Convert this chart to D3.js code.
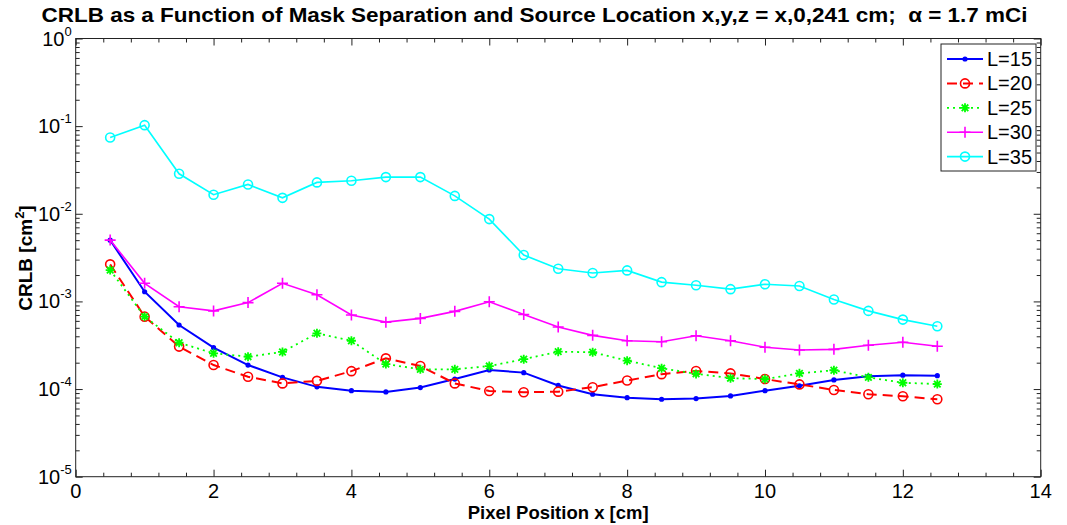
<!DOCTYPE html>
<html>
<head>
  <meta charset="utf-8">
  <script src="https://d3js.org/d3.v7.min.js"></script>
  <style>
    body { margin: 0; background: #fff; }
    svg { display: block; font-family: "Liberation Sans", Arial, sans-serif; }
  </style>
</head>
<body>
<div id="chart"></div>
<script>

    // pixel position x [cm]
    const xPos = [0.5, 1, 1.5, 2, 2.5, 3, 3.5, 4, 4.5, 5, 5.5, 6, 6.5, 7, 7.5, 8, 8.5, 9, 9.5, 10, 10.5, 11, 11.5, 12, 12.5]

    // CRLB [cm^2] per mask separation
    const crlbL15 = [0.0050, 0.00129, 0.000538, 0.000297, 0.000188, 0.000136, 0.000106, 0.0000959, 0.0000927, 0.000104,
                     0.000130, 0.000165, 0.000154, 0.000110, 0.0000873, 0.0000798, 0.0000765, 0.0000778, 0.0000834, 0.0000959,
                     0.000109, 0.000127, 0.000140, 0.000144, 0.000142]
    const crlbL20 = [0.00265, 0.00067, 0.000305, 0.000188, 0.000138, 0.000116, 0.000124, 0.000160, 0.000224, 0.000183,
                     0.000116, 0.0000951, 0.0000920, 0.0000934, 0.000105, 0.000125, 0.000148, 0.000161, 0.000151, 0.000130,
                     0.000113, 0.0000977, 0.0000873, 0.0000828, 0.0000765]
    const crlbL25 = [0.00228, 0.00067, 0.000338, 0.000256, 0.000234, 0.000265, 0.000433, 0.000356, 0.000193, 0.000168,
                     0.000168, 0.000183, 0.000219, 0.000267, 0.000263, 0.000211, 0.000173, 0.000149, 0.000133, 0.000130,
                     0.000151, 0.000164, 0.000136, 0.000118, 0.000114]
    const crlbL30 = [0.00501, 0.00161, 0.00087, 0.00078, 0.00097, 0.00161, 0.00119, 0.00070, 0.00058, 0.00064,
                     0.00077, 0.00099, 0.00071, 0.00051, 0.00041, 0.000356, 0.000347, 0.000406, 0.000356, 0.000300,
                     0.000279, 0.000284, 0.000316, 0.000342, 0.000308]
    const crlbL35 = [0.0743, 0.1026, 0.0286, 0.0165, 0.0216, 0.0152, 0.0228, 0.0238, 0.0262, 0.0262,
                     0.0160, 0.0087, 0.00338, 0.00236, 0.00211, 0.00226, 0.00166, 0.00153, 0.00138, 0.00157,
                     0.00150, 0.00105, 0.00078, 0.00062, 0.00052]

    const seriesNames = ['L=15', 'L=20', 'L=25', 'L=30', 'L=35']

    const xTicks = [0, 2, 4, 6, 8, 10, 12, 14]
    const yExponents = [0, -1, -2, -3, -4, -5]

    const titleText = 'CRLB as a Function of Mask Separation and Source Location x,y,z = x,0,241 cm;\u00a0\u00a0\u03b1 = 1.7 mCi'

    const width = 1067,
        height = 525
    const margin = { top: 38.5, right: 26.3, bottom: 48.3, left: 75.7 },
        innerWidth = width - margin.left - margin.right,
        innerHeight = height - margin.top - margin.bottom

    const series = [
        { name: seriesNames[0], values: crlbL15, color: '#0000ff', dash: null,    width: 2,   marker: 'dot' },
        { name: seriesNames[1], values: crlbL20, color: '#ff0000', dash: '10,6',  width: 2,   marker: 'circle' },
        { name: seriesNames[2], values: crlbL25, color: '#00ff00', dash: '2,4',   width: 1.8, marker: 'star' },
        { name: seriesNames[3], values: crlbL30, color: '#ff00ff', dash: null,    width: 1.6, marker: 'plus' },
        { name: seriesNames[4], values: crlbL35, color: '#00ffff', dash: null,    width: 1.6, marker: 'circle' },
    ]

    var xScale = d3.scaleLinear().domain([0, 14]).range([0, innerWidth])
    var yScale = d3.scaleLog().domain([1e-5, 1]).range([innerHeight, 0])

    var svg = d3.select('#chart').append('svg')
        .attr('width', width)
        .attr('height', height)

    var g = svg.append('g')
        .attr('transform', `translate(${margin.left},${margin.top})`)

    // minor tick values
    var xMinor = d3.range(0, 14.001, 0.4).filter(v => Math.abs(v / 2 - Math.round(v / 2)) > 1e-6)
    var yMinor = []
    yExponents.slice(1).forEach(e => { for (let k = 2; k <= 9; k++) yMinor.push(k * Math.pow(10, e)) })
    var yMajor = yExponents.map(e => Math.pow(10, e))

    function tickAxis(axisFn, scale, values, size, tx, ty) {
        var a = g.append('g')
            .attr('class', 'ticks')
            .attr('transform', `translate(${tx},${ty})`)
            .call(axisFn(scale).tickValues(values).tickSize(size).tickSizeOuter(0).tickFormat(''))
        a.select('.domain').remove()
        a.selectAll('text').remove()
        a.selectAll('line').attr('stroke', '#222').attr('stroke-width', 1)
        return a
    }

    // inward ticks on all four sides (box on)
    tickAxis(d3.axisBottom, xScale, xTicks, -7, 0, innerHeight)
    tickAxis(d3.axisBottom, xScale, xMinor, -4, 0, innerHeight)
    tickAxis(d3.axisTop, xScale, xTicks, -7, 0, 0)
    tickAxis(d3.axisTop, xScale, xMinor, -4, 0, 0)
    tickAxis(d3.axisLeft, yScale, yMajor, -7, 0, 0)
    tickAxis(d3.axisLeft, yScale, yMinor, -4, 0, 0)
    tickAxis(d3.axisRight, yScale, yMajor, -7, innerWidth, 0)
    tickAxis(d3.axisRight, yScale, yMinor, -4, innerWidth, 0)

    g.append('rect')
        .attr('width', innerWidth)
        .attr('height', innerHeight)
        .attr('fill', 'none')
        .attr('stroke', '#222')
        .attr('stroke-width', 1)

    // x tick labels
    g.append('g').selectAll('text')
        .data(xTicks).enter()
        .append('text')
        .attr('x', d => xScale(d))
        .attr('y', innerHeight + 21)
        .attr('text-anchor', 'middle')
        .attr('font-size', 20)
        .text(d => d)

    // y tick labels 10^n
    var yl = g.append('g').selectAll('text')
        .data(yExponents).enter()
        .append('text')
        .attr('x', -4)
        .attr('y', d => yScale(Math.pow(10, d)) + 7)
        .attr('text-anchor', 'end')
        .attr('font-size', 20)
    yl.append('tspan').text('10')
    yl.append('tspan')
        .attr('dy', -10)
        .attr('font-size', 13)
        .text(d => d === 0 ? '0' : '-' + Math.abs(d))

    // axis titles
    svg.append('text')
        .attr('x', width / 2 + 1)
        .attr('y', 22)
        .attr('text-anchor', 'middle')
        .attr('font-size', 21)
        .attr('font-weight', 'bold')
        .attr('textLength', 986)
        .attr('lengthAdjust', 'spacingAndGlyphs')
        .text(titleText)

    svg.append('text')
        .attr('x', margin.left + innerWidth / 2)
        .attr('y', 519)
        .attr('text-anchor', 'middle')
        .attr('font-size', 19)
        .attr('font-weight', 'bold')
        .attr('textLength', 181)
        .attr('lengthAdjust', 'spacingAndGlyphs')
        .text('Pixel Position x [cm]')

    var ylab = svg.append('text')
        .attr('transform', 'translate(32,258) rotate(-90)')
        .attr('text-anchor', 'middle')
        .attr('font-size', 19)
        .attr('font-weight', 'bold')
    ylab.append('tspan').text('CRLB [cm')
    ylab.append('tspan').attr('dy', -8).attr('font-size', 13).text('2')
    ylab.append('tspan').attr('dy', 8).text(']')

    function drawMarker(sel, type, color) {
        if (type === 'dot') {
            sel.append('circle').attr('r', 2.6).attr('fill', color)
        } else if (type === 'circle') {
            sel.append('circle').attr('r', 4.5).attr('fill', 'none')
                .attr('stroke', color).attr('stroke-width', 1.6)
        } else if (type === 'plus') {
            sel.append('path').attr('d', 'M-5.5,0H5.5M0,-5.5V5.5')
                .attr('stroke', color).attr('stroke-width', 1.6)
        } else if (type === 'star') {
            sel.append('path').attr('d', 'M-4.5,0H4.5M0,-4.5V4.5M-3.3,-3.3L3.3,3.3M-3.3,3.3L3.3,-3.3')
                .attr('stroke', color).attr('stroke-width', 1.8)
        }
    }

    var line = d3.line()
        .x(d => xScale(d[0]))
        .y(d => yScale(d[1]))

    series.forEach(s => {
        var pts = xPos.map((x, i) => [x, s.values[i]])
        var sg = g.append('g')
        sg.append('path')
            .datum(pts)
            .attr('d', line)
            .attr('fill', 'none')
            .attr('stroke', s.color)
            .attr('stroke-width', s.width)
            .attr('stroke-dasharray', s.dash)
        sg.selectAll('g.mk')
            .data(pts).enter()
            .append('g')
            .attr('class', 'mk')
            .attr('transform', d => `translate(${xScale(d[0])},${yScale(d[1])})`)
            .each(function() { drawMarker(d3.select(this), s.marker, s.color) })
    })

    // legend
    var legend = svg.append('g').attr('transform', 'translate(941,44)')
    legend.append('rect')
        .attr('width', 95)
        .attr('height', 127)
        .attr('fill', '#fff')
        .attr('stroke', '#222')
        .attr('stroke-width', 1)

    var rows = legend.selectAll('g.row')
        .data(series).enter()
        .append('g')
        .attr('class', 'row')
        .attr('transform', (d, i) => `translate(0,${15 + i * 24.4})`)
    rows.append('line')
        .attr('x1', 6).attr('x2', 42)
        .attr('stroke', d => d.color)
        .attr('stroke-width', d => d.width)
        .attr('stroke-dasharray', d => d.dash)
    rows.append('g')
        .attr('transform', 'translate(24,0)')
        .each(function(d) { drawMarker(d3.select(this), d.marker, d.color) })
    rows.append('text')
        .attr('x', 46)
        .attr('y', 7)
        .attr('font-size', 20)
        .text(d => d.name)

</script>
</body>
</html>
